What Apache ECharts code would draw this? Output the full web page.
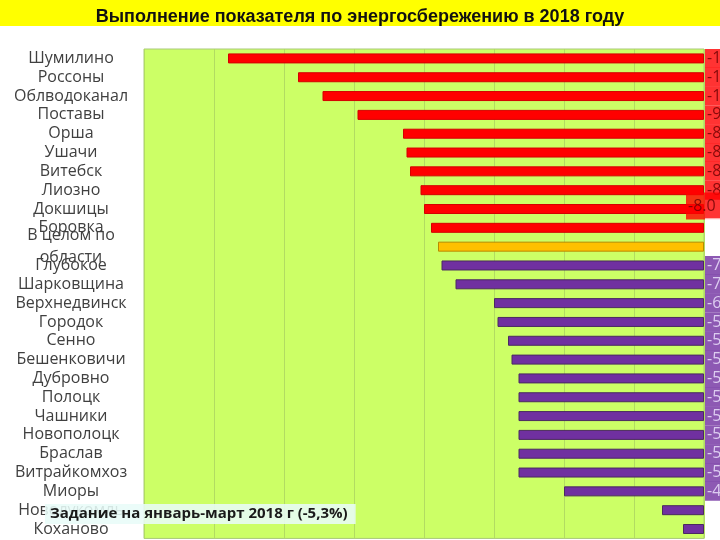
<!DOCTYPE html>
<html><head><meta charset="utf-8">
<script src="https://cdn.jsdelivr.net/npm/echarts/dist/echarts.min.js"></script>
<style>html,body{margin:0;padding:0;background:#fff}#c{width:720px;height:540px}</style>
</head><body><div id="c"></div>
<script>
const titleText = 'Выполнение показателя по энергосбережению в 2018 году';
const noteText = 'Задание на январь-март 2018 г (-5,3%)';
const categories = ['Шумилино','Россоны','Облводоканал','Поставы','Орша','Ушачи','Витебск','Лиозно','Докшицы','Боровка','В целом по области','Глубокое','Шарковщина','Верхнедвинск','Городок','Сенно','Бешенковичи','Дубровно','Полоцк','Чашники','Новополоцк','Браслав','Витрайкомхоз','Миоры','Новолукомль','Коханово'];
const values = [-13.6,-11.6,-10.9,-9.9,-8.6,-8.5,-8.4,-8.1,-8.0,-7.8,-7.6,-7.5,-7.1,-6.0,-5.9,-5.6,-5.5,-5.3,-5.3,-5.3,-5.3,-5.3,-5.3,-4.0,-1.2,-0.6];
// group: 'over' = worse than region, 'total' = region as a whole, 'under' = better
const groups = ['over','over','over','over','over','over','over','over','over','over','total','under','under','under','under','under','under','under','under','under','under','under','under','under','under','under'];
// right-hand value tags as seen in the picture: 'tag' shown, 'blank' empty box, 'none' absent
const tagKinds = ['tag','tag','tag','tag','tag','tag','tag','tag','tag','blank','blank','tag','tag','tag','tag','tag','tag','tag','tag','tag','tag','tag','tag','tag','none','none'];
const xTicks = {min:-16, max:0, interval:2};

const fill = {over:'#ff0000', total:'#ffc000', under:'#7030a0'};
const edge = {over:'#d40000', total:'#b88a00', under:'#4a2a60'};
const tagText = {over:'#6a0000', total:'#ffffff', under:'#f0e8ff'};

const chart = echarts.init(document.getElementById('c'));
const barData = values.map((v,i)=>({value:v, itemStyle:{color:fill[groups[i]], borderColor:edge[groups[i]], borderWidth:1}}));
const tagData = values.map((v,i)=>{
  const k = tagKinds[i], g = groups[i];
  const lab = {show:k!=='none', position:'right', distance:1, fontFamily:'Open Sans', fontSize:16, lineHeight:19,
    color:tagText[g], backgroundColor: k==='blank' ? '#ffffff' : fill[g], padding:[0,30,0,2],
    formatter: k==='tag' ? v.toFixed(1) : ' '};
  if (categories[i]==='Докшицы') { lab.offset=[-19,-3]; lab.padding=[4,30,4,2]; }
  return {value:[0, categories[i]], label:lab};
});

chart.setOption({
  animation:false,
  backgroundColor:'#ffffff',
  graphic:[
    {type:'rect', left:0, top:0, shape:{width:720, height:26}, style:{fill:'#ffff00'}, z:0},
    {type:'text', left:45, top:504, z:100, style:{text:noteText, font:'bold 15px "Open Sans"', fill:'#1a1a1a',
      backgroundColor:'rgba(232,252,248,0.88)', padding:[2,8,3,5]}}
  ],
  title:{text:titleText, left:'center', top:3, textStyle:{fontFamily:'Liberation Sans', fontWeight:'bold', fontSize:18, color:'#111'}},
  grid:{left:144, right:16, top:49, height:490, show:true, backgroundColor:'#ccff66', borderColor:'#a9c97a', borderWidth:1},
  xAxis:{type:'value', min:xTicks.min, max:xTicks.max, interval:xTicks.interval,
    axisLabel:{show:false}, axisLine:{show:false}, axisTick:{show:false},
    splitLine:{show:true, lineStyle:{color:'#b2dc62', width:1}}},
  yAxis:{type:'category', data:categories, inverse:true,
    axisLine:{show:false}, axisTick:{show:false},
    axisLabel:{interval:0, align:'center', margin:73, fontFamily:'Open Sans', fontSize:16, color:'#404040', lineHeight:22,
      formatter:(s)=> s==='В целом по области' ? 'В целом по\nобласти' : s}},
  series:[
    {type:'bar', data:barData, barWidth:10},
    {type:'scatter', data:tagData, symbolSize:0, clip:false, z:5}
  ]
});
</script></body></html>
